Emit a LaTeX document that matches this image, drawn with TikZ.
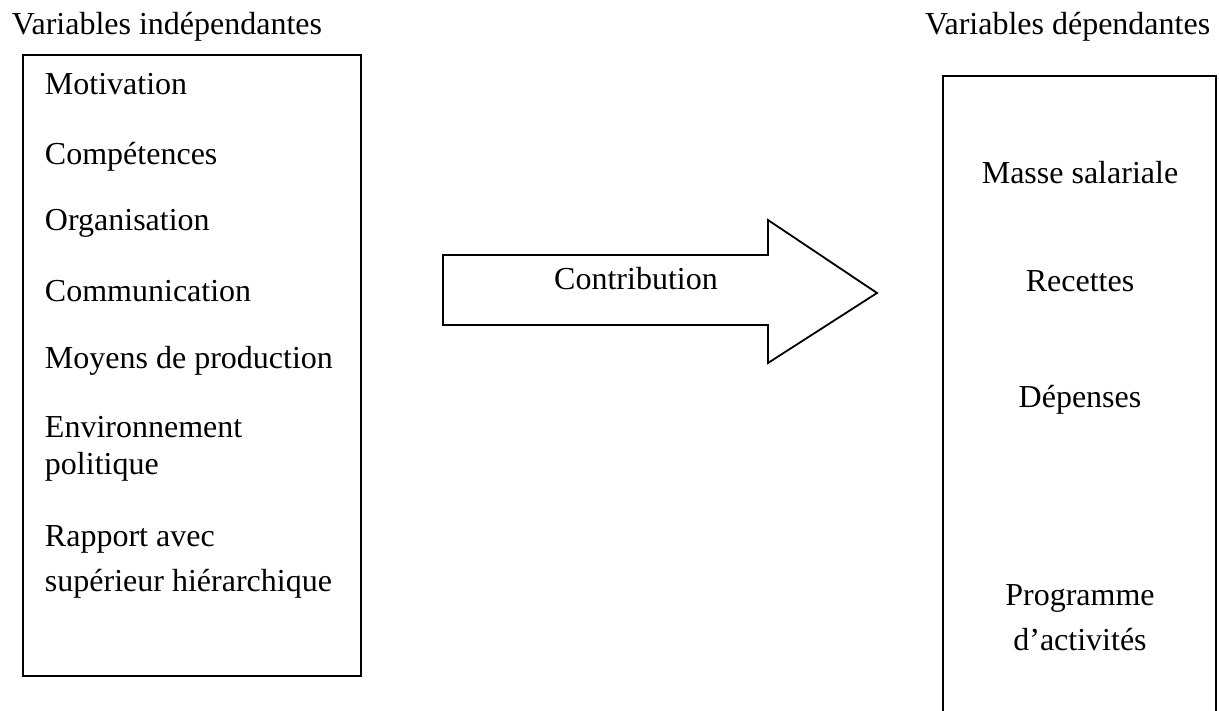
\documentclass[tikz,border=0pt]{standalone}
\usepackage{fontspec}
\setmainfont{Liberation Serif}
\begin{document}
\begin{tikzpicture}[x=1pt,y=-1pt,
  every node/.style={inner sep=0pt,outer sep=0pt,font=\fontsize{32}{38}\selectfont},
  item/.style={anchor=base west},
  ritem/.style={anchor=base},
  frame/.style={draw=black,line width=1.8pt},
  title/.style={anchor=base west}]
\useasboundingbox (0,0) rectangle (1219,711);
% titles
\node[title] (tl) at (12,35) {Variables indépendantes};
\node[title] (tr) at (925,35) {Variables dépendantes};
% left box
\draw[frame] (23,55) rectangle (361,676);
\node[item] (a1) at (45,95) {Motivation};
\node[item] (a2) at (45,165) {Compétences};
\node[item] (a3) at (45,231) {Organisation};
\node[item] (a4) at (45,302) {Communication};
\node[item] (a5) at (45,369) {Moyens de production};
\node[item] (a6) at (45,437) {Environnement};
\node[item] (a6b) at (45,475) {politique};
\node[item] (a7) at (45,546) {Rapport avec};
\node[item] (a7b) at (45,591) {supérieur hiérarchique};
% right box (open at the bottom)
\draw[frame] (943,711) -- (943,76) -- (1216,76) -- (1216,711);
\node[ritem] (b1) at (1080,184) {Masse salariale};
\node[ritem] (b2) at (1080,292) {Recettes};
\node[ritem] (b3) at (1080,407) {Dépenses};
\node[ritem] (b4) at (1080,605) {Programme};
\node[ritem] (b4b) at (1080,650) {d’activités};
% block arrow
\draw[frame,line join=miter] (443,255) -- (768,255) -- (768,220) -- (877,293)
  -- (768,363) -- (768,325) -- (443,325) -- cycle;
\node[ritem] (c) at (636,290) {Contribution};
\end{tikzpicture}
\end{document}
